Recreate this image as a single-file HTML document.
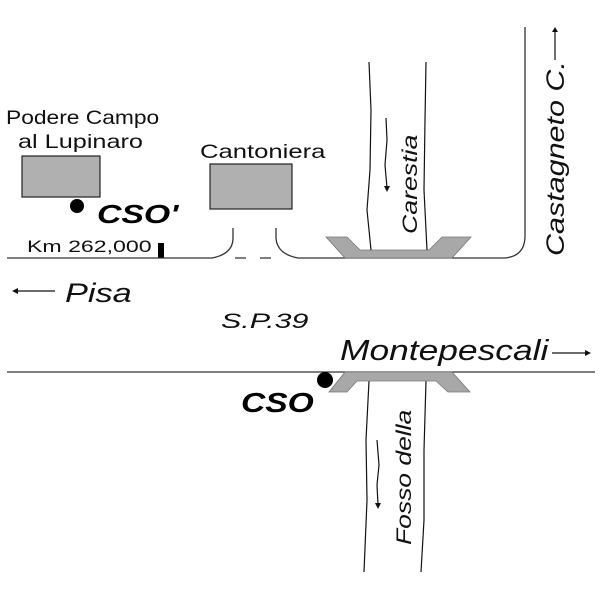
<!DOCTYPE html>
<html><head><meta charset="utf-8"><style>html,body{margin:0;padding:0;background:#fff;}svg{display:block}</style></head>
<body>
<svg width="600" height="600" viewBox="0 0 600 600" xmlns="http://www.w3.org/2000/svg" font-family="Liberation Sans, sans-serif">
<rect width="600" height="600" fill="#fff"/>
<!-- Podere -->
<text transform="translate(6,124) scale(1.2,1)" font-size="19" fill="#111">Podere Campo</text>
<text transform="translate(18,148) scale(1.33,1)" font-size="19" fill="#111">al Lupinaro</text>
<rect x="22" y="156" width="78" height="41" fill="#b0b0b0" stroke="#222" stroke-width="1.2"/>
<circle cx="77" cy="206" r="7" fill="#000"/>
<text transform="translate(97,223) scale(1.3,1)" font-size="26" font-weight="bold" font-style="italic" fill="#000">CSO'</text>
<!-- Cantoniera -->
<text transform="translate(200,158) scale(1.35,1)" font-size="19" fill="#111">Cantoniera</text>
<rect x="210" y="164" width="82" height="45" fill="#b0b0b0" stroke="#222" stroke-width="1.2"/>
<text transform="translate(27,252) scale(1.36,1)" font-size="17" fill="#111">Km 262,000</text>
<rect x="158" y="243" width="6" height="15" fill="#000"/>
<!-- roads -->
<g fill="none" stroke="#333" stroke-width="1.3">
<path d="M7 258 H212 Q233 254 233 238 V228"/>
<path d="M235 258 H246 M260 258 H271"/>
<path d="M276 228 V238 Q277 254 298 258 H505 Q525 256 525 236 V27"/>
<line x1="7" y1="372" x2="595" y2="372"/>
</g>
<!-- top bridge -->
<polygon points="326,237 347,237 360,250 429,250 442,237 471,237 452,258 345,258" fill="#a8a8a8" stroke="#777" stroke-width="0.8"/>
<g fill="none" stroke="#111" stroke-width="1.2">
<path d="M369 62 L371 110 L370 170 L367 210 L371 250"/>
<path d="M426 62 L425 120 L424 190 L427 250"/>
<path d="M386 118 L387 140 L385 165 L387 188"/>
<path d="M369 381 L366 440 L367 500 L364 572"/>
<path d="M426 381 L424 450 L424 520 L421 572"/>
<path d="M377 440 L379 465 L377 485 L378 505"/>
</g>
<polygon points="384,186 390,186 387,192" fill="#111"/>
<polygon points="375,503 381,503 378,509" fill="#111"/>
<text transform="translate(417,234) rotate(-90) scale(1.27,1)" font-size="21" font-style="italic" fill="#111">Carestia</text>
<text transform="translate(564,256) rotate(-90) scale(1.22,1)" font-size="25" font-style="italic" fill="#111">Castagneto C.</text>
<line x1="555" y1="60" x2="555" y2="31" stroke="#111" stroke-width="1.2"/>
<polygon points="552,32 558,32 555,27" fill="#111"/>
<!-- Pisa -->
<line x1="15" y1="291" x2="55" y2="291" stroke="#111" stroke-width="1.2"/>
<polygon points="12,291 18,288 18,294" fill="#111"/>
<text transform="translate(65,302) scale(1.27,1)" font-size="27" font-style="italic" fill="#111">Pisa</text>
<text transform="translate(221,328) scale(1.45,1)" font-size="21" font-style="italic" fill="#111">S.P.39</text>
<text transform="translate(340,360) scale(1.22,1)" font-size="29" font-style="italic" fill="#111">Montepescali</text>
<line x1="552" y1="353" x2="587" y2="353" stroke="#111" stroke-width="1.2"/>
<polygon points="591,353 585,350 585,356" fill="#111"/>
<!-- bottom bridge -->
<polygon points="345,372 452,372 470,392 448,392 436,381 357,381 347,392 329,392" fill="#a8a8a8" stroke="#777" stroke-width="0.8"/>
<circle cx="325" cy="380" r="8" fill="#000"/>
<text transform="translate(241,412) scale(1.2,1)" font-size="28" font-weight="bold" font-style="italic" fill="#000">CSO</text>
<text transform="translate(411,545) rotate(-90) scale(1.26,1)" font-size="21" font-style="italic" fill="#111">Fosso della</text>
</svg>
</body></html>
